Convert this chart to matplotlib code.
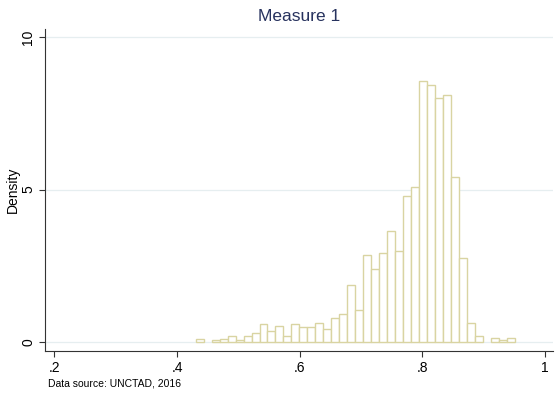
import numpy as np
import matplotlib.pyplot as plt

plt.rcParams['font.family'] = ['Liberation Sans', 'DejaVu Sans']

# histogram: 40 bins starting at bin_start, width bin_width
bin_start = 0.4305
bin_width = 0.013
density = [0.11, 0.0, 0.05, 0.11, 0.18, 0.07, 0.18, 0.31, 0.60, 0.36,
           0.54, 0.18, 0.60, 0.48, 0.48, 0.61, 0.43, 0.80, 0.92, 1.87,
           1.04, 2.86, 2.38, 2.91, 3.63, 2.97, 4.78, 5.09, 8.58, 8.42,
           8.00, 8.11, 5.40, 2.74, 0.61, 0.20, 0.0, 0.14, 0.08, 0.14]

xticks = [0.2, 0.4, 0.6, 0.8, 1.0]
xticklabels = ['.2', '.4', '.6', '.8', '1']
yticks = [0, 5, 10]

edges = bin_start + bin_width * np.arange(len(density))

fig = plt.figure(figsize=(5.55, 4.0), dpi=100)
ax = fig.add_axes([0.0811, 0.12375, 0.9153, 0.80375])

for y in yticks:
    ax.axhline(y, color='#e6eef0', lw=0.9, zorder=0)

mask = np.array(density) > 0
ax.bar(edges[mask], np.array(density)[mask], width=bin_width, align='edge',
       facecolor='white', edgecolor='#d9d4a2', linewidth=1.0, zorder=2)

ax.set_xlim(0.1848, 1.013)
ax.set_ylim(-0.28, 10.27)
ax.set_xticks(xticks)
ax.set_xticklabels(xticklabels)
ax.set_yticks(yticks)
ax.set_yticklabels([str(t) for t in yticks], rotation=90, va='center')
ax.tick_params(axis='both', length=4, width=0.8, labelsize=10, color='#333333')
ax.tick_params(axis='y', pad=3)

for s in ['top', 'right']:
    ax.spines[s].set_visible(False)
for s in ['left', 'bottom']:
    ax.spines[s].set_linewidth(0.8)
    ax.spines[s].set_color('#333333')

ax.set_ylabel('Density', fontsize=10, labelpad=1)
ax.set_title('Measure 1', fontsize=12.5, color='#27325e', pad=6)

fig.text(0.087, 0.04, 'Data source: UNCTAD, 2016', fontsize=7.5, va='center')

fig.savefig('out.png', dpi=100)
